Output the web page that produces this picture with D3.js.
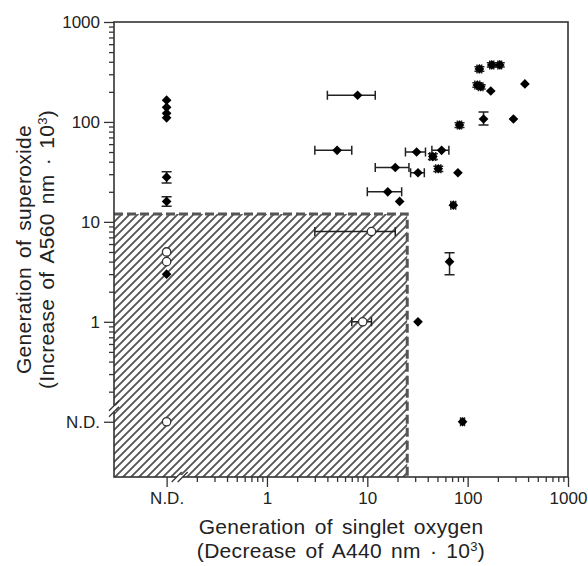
<!DOCTYPE html>
<html lang="en">
<head>
  <meta charset="UTF-8">
  <script src="https://d3js.org/d3.v7.min.js"></script>
  <title>Singlet oxygen vs superoxide</title>
  <style>
    body { margin: 0; background: #fff; }
    svg { display: block; font-family: "Liberation Sans", Arial, Helvetica, sans-serif; }
  </style>
</head>
<body>
  <script>
    // "N.D." = not detected, drawn on its own tick below the log range
    const ND = "N.D.";
    const ND_POS = 0.1;

    // filled diamonds: singlet oxygen (x) and superoxide (y)
    const oxyFilled = [ND, ND, ND, ND, ND, ND, ND, 8, 5, 31, 19, 32, 16, 21, 45, 55, 51, 80, 72, 83, 131, 174, 209, 125, 135, 170, 372, 144, 286, 66, 32, 89];
    const supFilled = [165, 140, 122, 110, 28, 16, 3, 185, 52, 50, 35, 31, 20, 16, 45, 52, 34, 31, 14.7, 93, 339, 372, 372, 234, 225, 204, 240, 107, 107, 4, 1, ND];
    // error ranges (null = none)
    const oxyFilledLo = [null, null, null, null, null, null, null, 4, 3, 24, 12, 27, 10, null, 42, 44, 48, null, 68, 79, 124, 166, 200, 118, 128, null, null, null, null, null, null, 85];
    const oxyFilledHi = [null, null, null, null, null, null, null, 12, 7, 38, 26, 37, 22, null, 48, 65, 54, null, 76, 87, 138, 182, 218, 132, 142, null, null, null, null, null, null, 93];
    const supFilledLo = [null, null, null, null, 24.5, 14.3, null, null, null, null, null, null, null, null, 42, null, 32, null, null, 88, 322, 354, 354, 222, 214, null, null, 93, null, 2.95, null, null];
    const supFilledHi = [null, null, null, null, 31.8, 17.8, null, null, null, null, null, null, null, null, 48, null, 36, null, null, 98, 356, 390, 390, 246, 236, null, null, 126, null, 4.9, null, null];

    // open circles
    const oxyOpen = [ND, ND, ND, 11, 9];
    const supOpen = [5, 4, ND, 8, 1];
    const oxyOpenLo = [null, null, null, 3, 7];
    const oxyOpenHi = [null, null, null, 19, 11];

    // shaded region limits
    const oxyLimit = 25;
    const supLimit = 12;

    // tick labels
    const majorTicks = [ND, 1, 10, 100, 1000];

    const width = 588, height = 566;
    const mLeft = 114, mRight = 568, mTop = 22, mBottom = 477;

    const svg = d3.select("body").append("svg")
      .attr("width", width)
      .attr("height", height);

    const pos = v => v === ND ? ND_POS : v;

    const xScale = d3.scaleLog().domain([0.0299, 1000]).range([mLeft, mRight]);
    const yScale = d3.scaleLog().domain([0.028, 1000]).range([mBottom, mTop]);

    const minorTicks = [];
    [0.1, 1, 10, 100].forEach(dec => { for (let k = 2; k <= 9; k++) minorTicks.push(dec * k); });
    const majorPos = majorTicks.map(pos);
    const fmt = d => d === ND_POS ? ND : d3.format("d")(d);

    /* hatch pattern */
    const defs = svg.append("defs");
    const pat = defs.append("pattern")
      .attr("id", "hatch")
      .attr("patternUnits", "userSpaceOnUse")
      .attr("width", 8).attr("height", 8);
    pat.append("path")
      .attr("d", "M-2,2 L2,-2 M0,8 L8,0 M6,10 L10,6")
      .attr("stroke", "#555")
      .attr("stroke-width", 1.9);

    svg.append("rect")
      .attr("x", mLeft)
      .attr("y", yScale(supLimit))
      .attr("width", xScale(oxyLimit) - mLeft)
      .attr("height", mBottom - yScale(supLimit))
      .attr("fill", "url(#hatch)");

    svg.append("path")
      .attr("d", `M${mLeft},${yScale(supLimit)} H${xScale(oxyLimit)} V${mBottom}`)
      .attr("fill", "none")
      .attr("stroke", "#555")
      .attr("stroke-width", 3)
      .attr("stroke-dasharray", "9,4");

    /* axes */
    const styleAxis = g => {
      g.select(".domain").remove();
      g.selectAll(".tick line").attr("stroke", "#333").attr("stroke-width", 1.3);
      g.selectAll(".tick text").attr("fill", "#222").style("font-size", "17px").style("font-family", "inherit");
    };

    svg.append("g")
      .attr("transform", `translate(0,${mBottom})`)
      .call(d3.axisBottom(xScale).tickValues(minorTicks).tickSize(5).tickFormat(""))
      .call(styleAxis);
    svg.append("g")
      .attr("transform", `translate(0,${mBottom})`)
      .call(d3.axisBottom(xScale).tickValues(majorPos).tickSize(10).tickPadding(5).tickFormat(fmt))
      .call(styleAxis);

    svg.append("g")
      .attr("transform", `translate(${mLeft},0)`)
      .call(d3.axisLeft(yScale).tickValues(minorTicks).tickSize(5).tickFormat(""))
      .call(styleAxis);
    svg.append("g")
      .attr("transform", `translate(${mLeft},0)`)
      .call(d3.axisLeft(yScale).tickValues(majorPos).tickSize(10).tickPadding(4).tickFormat(fmt))
      .call(styleAxis);

    // frame
    svg.append("rect")
      .attr("x", mLeft).attr("y", mTop)
      .attr("width", mRight - mLeft).attr("height", mBottom - mTop)
      .attr("fill", "none")
      .attr("stroke", "#333")
      .attr("stroke-width", 1.6);

    // axis breaks
    const bx = xScale(0.135), by = yScale(0.135);
    svg.append("rect").attr("x", bx - 3).attr("y", mBottom - 2).attr("width", 6).attr("height", 4).attr("fill", "#fff");
    svg.append("rect").attr("x", mLeft - 2).attr("y", by - 3).attr("width", 4).attr("height", 6).attr("fill", "#fff");
    const brk = svg.append("g").attr("stroke", "#333").attr("stroke-width", 1.2);
    [-3, 3].forEach(o => {
      brk.append("line").attr("x1", bx + o - 5).attr("y1", mBottom + 5).attr("x2", bx + o + 5).attr("y2", mBottom - 5);
      brk.append("line").attr("x1", mLeft - 5).attr("y1", by + o + 5).attr("x2", mLeft + 5).attr("y2", by + o - 5);
    });

    /* error bars */
    const errG = svg.append("g").attr("stroke", "#222").attr("stroke-width", 1.5).attr("fill", "none");
    const drawErr = (xs, ys, xLo, xHi, yLo, yHi) => {
      xs.forEach((xv, i) => {
        const cx = xScale(pos(xv)), cy = yScale(pos(ys[i]));
        if (xLo && xLo[i] != null) {
          const a = xScale(xLo[i]), b = xScale(xHi[i]);
          errG.append("path").attr("d", `M${a},${cy} H${b} M${a},${cy - 4.5} V${cy + 4.5} M${b},${cy - 4.5} V${cy + 4.5}`);
        }
        if (yLo && yLo[i] != null) {
          const a = yScale(yLo[i]), b = yScale(yHi[i]);
          errG.append("path").attr("d", `M${cx},${a} V${b} M${cx - 5},${a} H${cx + 5} M${cx - 5},${b} H${cx + 5}`);
        }
      });
    };
    drawErr(oxyFilled, supFilled, oxyFilledLo, oxyFilledHi, supFilledLo, supFilledHi);
    drawErr(oxyOpen, supOpen, oxyOpenLo, oxyOpenHi, null, null);

    /* markers */
    const diamond = d3.symbol(d3.symbolDiamond2, 60);
    svg.append("g").selectAll("path")
      .data(oxyFilled.map((xv, i) => [xv, supFilled[i]]))
      .enter().append("path")
      .attr("d", diamond)
      .attr("transform", d => `translate(${xScale(pos(d[0]))},${yScale(pos(d[1]))})`)
      .attr("fill", "#000");

    svg.append("g").selectAll("circle")
      .data(oxyOpen.map((xv, i) => [xv, supOpen[i]]))
      .enter().append("circle")
      .attr("cx", d => xScale(pos(d[0])))
      .attr("cy", d => yScale(pos(d[1])))
      .attr("r", 4.2)
      .attr("fill", "#fff")
      .attr("stroke", "#333")
      .attr("stroke-width", 1.3);

    /* titles */
    const xt = svg.append("text")
      .attr("text-anchor", "middle")
      .attr("fill", "#222")
      .style("font-size", "21px")
      .style("letter-spacing", "0.3px")
      .style("word-spacing", "3px");
    xt.append("tspan").attr("x", (mLeft + mRight) / 2).attr("y", 534).text("Generation of singlet oxygen");
    const xt2 = xt.append("tspan").attr("x", (mLeft + mRight) / 2).attr("y", 558);
    xt2.append("tspan").text("(Decrease of A440 nm \u00B7 10");
    xt2.append("tspan").attr("dy", -7).style("font-size", "13px").text("3");
    xt2.append("tspan").attr("dy", 7).text(")");

    const yt = svg.append("text")
      .attr("text-anchor", "middle")
      .attr("fill", "#222")
      .attr("transform", `translate(0,${(mTop + mBottom) / 2}) rotate(-90)`)
      .style("font-size", "21px")
      .style("letter-spacing", "0.3px")
      .style("word-spacing", "3px");
    yt.append("tspan").attr("x", 0).attr("y", 31).text("Generation of superoxide");
    const yt2 = yt.append("tspan").attr("x", 0).attr("y", 54);
    yt2.append("tspan").text("(Increase of A560 nm \u00B7 10");
    yt2.append("tspan").attr("dy", -7).style("font-size", "13px").text("3");
    yt2.append("tspan").attr("dy", 7).text(")");
  </script>
</body>
</html>
